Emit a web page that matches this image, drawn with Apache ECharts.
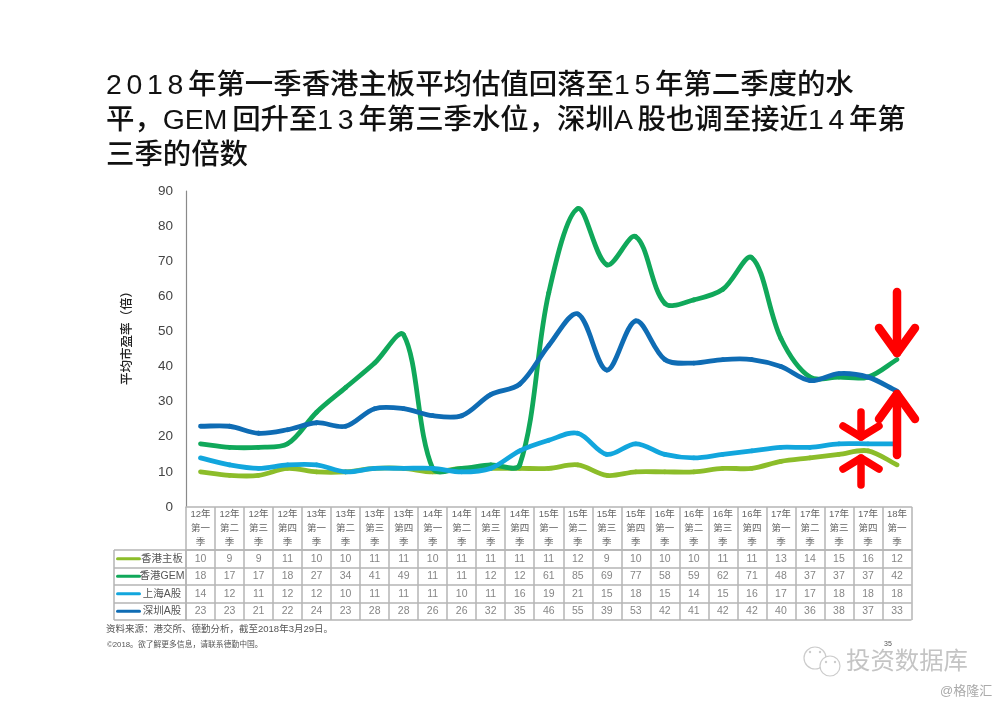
<!DOCTYPE html>
<html>
<head>
<meta charset="utf-8">
<style>html,body{margin:0;padding:0;background:#fff}#chart{width:1000px;height:707px}</style>
<script src="https://cdn.jsdelivr.net/npm/echarts@6/dist/echarts.min.js"></script>
</head>
<body>
<div id="chart"></div>
<script>
var years = ["12","12","12","12","13","13","13","13","14","14","14","14","15","15","15","15","16","16","16","16","17","17","17","17","18"];
var quarters = ["一","二","三","四","一","二","三","四","一","二","三","四","一","二","三","四","一","二","三","四","一","二","三","四","一"];
var categories = years.map(function (y, i) { return y + "年\n第" + quarters[i] + "\n季"; });

var hkMain = [10,9,9,11,10,10,11,11,10,11,11,11,11,12,9,10,10,10,11,11,13,14,15,16,12];
var hkGem = [18,17,17,18,27,34,41,49,11,11,12,12,61,85,69,77,58,59,62,71,48,37,37,37,42];
var shA = [14,12,11,12,12,10,11,11,11,10,11,16,19,21,15,18,15,14,15,16,17,17,18,18,18];
var szA = [23,23,21,22,24,23,28,28,26,26,32,35,46,55,39,53,42,41,42,42,40,36,38,37,33];

var seriesNames = ["香港主板","香港GEM","上海A股","深圳A股"];
var seriesValues = [hkMain, hkGem, shA, szA];
var seriesColors = ["#8cbd2a","#10a85a","#12a6dd","#0f6cb4"];

var sp = "\u2006";
var titleLines = [
	"2" + sp + "0" + sp + "1" + sp + "8" + sp + "年第一季香港主板平均估值回落至1" + sp + "5" + sp + "年第二季度的水",
	"平，GEM" + sp + "回升至1" + sp + "3" + sp + "年第三季水位，深圳A" + sp + "股也调至接近1" + sp + "4" + sp + "年第",
	"三季的倍数"
];
var titleTop = [72, 106.5, 142];

var cjk = '"Liberation Sans","Noto Sans CJK SC",sans-serif';
var gridColor = "#b5b5b5";
var chart = echarts.init(document.getElementById("chart"));

var tableCells = [];
seriesValues.forEach(function (vals, r) {
	vals.forEach(function (v, i) {
		tableCells.push([i, r, v]);
	});
});

var richRows = {};
seriesColors.forEach(function (c, i) {
	richRows["s" + i] = { backgroundColor: c, width: 25, height: 3, borderRadius: 2 };
});
richRows.t = { color: "#555", fontSize: 10.5, fontFamily: cjk, width: 42, align: "left" };

// red arrows and page furniture, not data
function arrow(x1, y1, x2, y2, run, rise, w) {
	var dir = y2 > y1 ? -1 : 1;
	var style = { stroke: "#ff0000", lineWidth: w, lineCap: "round", lineJoin: "round", fill: null };
	return [
		{ type: "polyline", z: 20, shape: { points: [[x1, y1], [x2, y2]] }, style: style },
		{ type: "polyline", z: 20, shape: { points: [[x2 - run, y2 + dir * rise], [x2, y2], [x2 + run, y2 + dir * rise]] }, style: style }
	];
}

var graphics = [];
titleLines.forEach(function (t, i) {
	graphics.push({ type: "text", left: 106, top: titleTop[i], style: { text: t, fontSize: 28.4, fontWeight: 500, fontFamily: cjk, fill: "#111" } });
});
graphics.push({ type: "text", x: 128, y: 335, rotation: Math.PI / 2, style: { text: "平均市盈率（倍）", fontSize: 12.5, fontWeight: 500, fontFamily: cjk, fill: "#222", align: "center", verticalAlign: "middle" } });
graphics.push({ type: "line", z: 5, shape: { x1: 114, y1: 550, x2: 114, y2: 620 }, style: { stroke: gridColor, lineWidth: 1.5 } });
graphics.push({ type: "text", left: 106, top: 625, style: { text: "资料来源：港交所、德勤分析，截至2018年3月29日。", fontSize: 9.5, fontFamily: cjk, fill: "#555" } });
graphics.push({ type: "text", left: 107, top: 641, style: { text: "©2018。欲了解更多信息，请联系德勤中国。", fontSize: 7.8, fontFamily: cjk, fill: "#555" } });
graphics.push({ type: "text", left: 884, top: 641, style: { text: "35", fontSize: 7, fontFamily: cjk, fill: "#555" } });
graphics.push({ type: "text", left: 846, top: 650, style: { text: "投资数据库", fontSize: 24.4, fontFamily: cjk, fill: "#c4c4c4" } });
graphics.push({ type: "text", left: 940, top: 685, style: { text: "@格隆汇", fontSize: 13, fontFamily: cjk, fill: "#aaa" } });
graphics.push({ type: "circle", shape: { cx: 815, cy: 658, r: 11 }, style: { fill: "#fff", stroke: "#ccc", lineWidth: 1.2 } });
graphics.push({ type: "circle", shape: { cx: 830, cy: 666, r: 10 }, style: { fill: "#fff", stroke: "#ccc", lineWidth: 1.2 } });
[[810, 652], [820, 652], [826, 662], [835, 662]].forEach(function (p) {
	graphics.push({ type: "circle", shape: { cx: p[0], cy: p[1], r: 1.2 }, style: { fill: "#ccc" } });
});
graphics = graphics
	.concat(arrow(897, 292, 897, 353, 18, 25, 8.5))
	.concat(arrow(897, 455, 897, 394, 18, 25, 8.5))
	.concat(arrow(861, 412, 861, 437, 18, 11, 7.5))
	.concat(arrow(861, 485, 861, 458, 18, 11, 7.5));

// Excel style smoothing: one bezier per segment, control points scaled by chord length
function smoothSegment(values) {
	var tension = 1 / 3;
	function dist(a, b) {
		return Math.sqrt((a[0] - b[0]) * (a[0] - b[0]) + (a[1] - b[1]) * (a[1] - b[1]));
	}
	return function (params, api) {
		var i = params.dataIndex;
		if (i >= values.length - 1) return null;
		var at = function (k) {
			k = Math.max(0, Math.min(values.length - 1, k));
			return api.coord([k, values[k]]);
		};
		var p0 = at(i - 1), p1 = at(i), p2 = at(i + 1), p3 = at(i + 2);
		var d01 = dist(p0, p1), d12 = dist(p1, p2), d23 = dist(p2, p3);
		var f1 = tension * d12 / (d01 + d12);
		var f2 = tension * d12 / (d12 + d23);
		return {
			type: "bezierCurve",
			shape: {
				x1: p1[0],
				y1: p1[1],
				x2: p2[0],
				y2: p2[1],
				cpx1: p1[0] + (p2[0] - p0[0]) * f1,
				cpy1: p1[1] + (p2[1] - p0[1]) * f1,
				cpx2: p2[0] - (p3[0] - p1[0]) * f2,
				cpy2: p2[1] - (p3[1] - p1[1]) * f2
			},
			style: { fill: null, stroke: api.visual("color"), lineWidth: 4.8, lineCap: "round" }
		};
	};
}

var lineSeries = seriesNames.map(function (name, i) {
	return {
		name: name,
		type: "custom",
		xAxisIndex: 0,
		yAxisIndex: 0,
		data: seriesValues[i].map(function (v, k) { return [k, v]; }),
		encode: { x: 0, y: 1 },
		itemStyle: { color: seriesColors[i] },
		renderItem: smoothSegment(seriesValues[i]),
		clip: false,
		silent: true
	};
});

chart.setOption({
	animation: false,
	backgroundColor: "#fff",
	grid: [
		{ left: 186, top: 191, width: 725.5, height: 316 },
		{ left: 186, top: 550, width: 725.5, height: 70 }
	],
	xAxis: [
		{
			type: "category",
			gridIndex: 0,
			data: categories,
			boundaryGap: true,
			axisLine: { lineStyle: { color: gridColor, width: 1.5 } },
			axisTick: { show: true, length: 43, interval: 0, lineStyle: { color: gridColor, width: 1.5 } },
			axisLabel: { interval: 0, margin: 0, fontSize: 9.5, lineHeight: 14, color: "#666", fontFamily: cjk }
		},
		{
			type: "category",
			gridIndex: 1,
			data: categories,
			position: "top",
			axisLine: { lineStyle: { color: gridColor, width: 1.5 } },
			axisTick: { show: false },
			axisLabel: { show: false },
			splitLine: { show: true, interval: 0, lineStyle: { color: gridColor, width: 1.5 } }
		}
	],
	yAxis: [
		{
			type: "value",
			gridIndex: 0,
			min: 0,
			max: 90,
			interval: 10,
			axisLine: { show: true, lineStyle: { color: "#8a8a8a", width: 1.2 } },
			axisTick: { show: false },
			splitLine: { show: false },
			axisLabel: { fontSize: 13.5, color: "#444", margin: 13, fontFamily: cjk }
		},
		{
			type: "category",
			gridIndex: 1,
			inverse: true,
			data: seriesNames,
			axisLine: { lineStyle: { color: gridColor, width: 1.5 } },
			axisTick: { show: true, length: 72, interval: 0, lineStyle: { color: gridColor, width: 1.5 } },
			splitLine: { show: true, interval: 0, lineStyle: { color: gridColor, width: 1.5 } },
			axisLabel: {
				margin: 3,
				interval: 0,
				formatter: function (v, i) {
					return "{s" + i + "|}{t|" + v + "}";
				},
				rich: richRows
			}
		}
	],
	series: lineSeries.concat([
		{
			type: "scatter",
			xAxisIndex: 1,
			yAxisIndex: 1,
			data: tableCells,
			symbolSize: 0,
			silent: true,
			label: {
				show: true,
				position: "inside",
				fontSize: 10.5,
				color: "#666",
				fontFamily: cjk,
				formatter: function (p) {
					return p.value[2];
				}
			}
		}
	]),
	graphic: graphics
});
</script>
</body>
</html>
